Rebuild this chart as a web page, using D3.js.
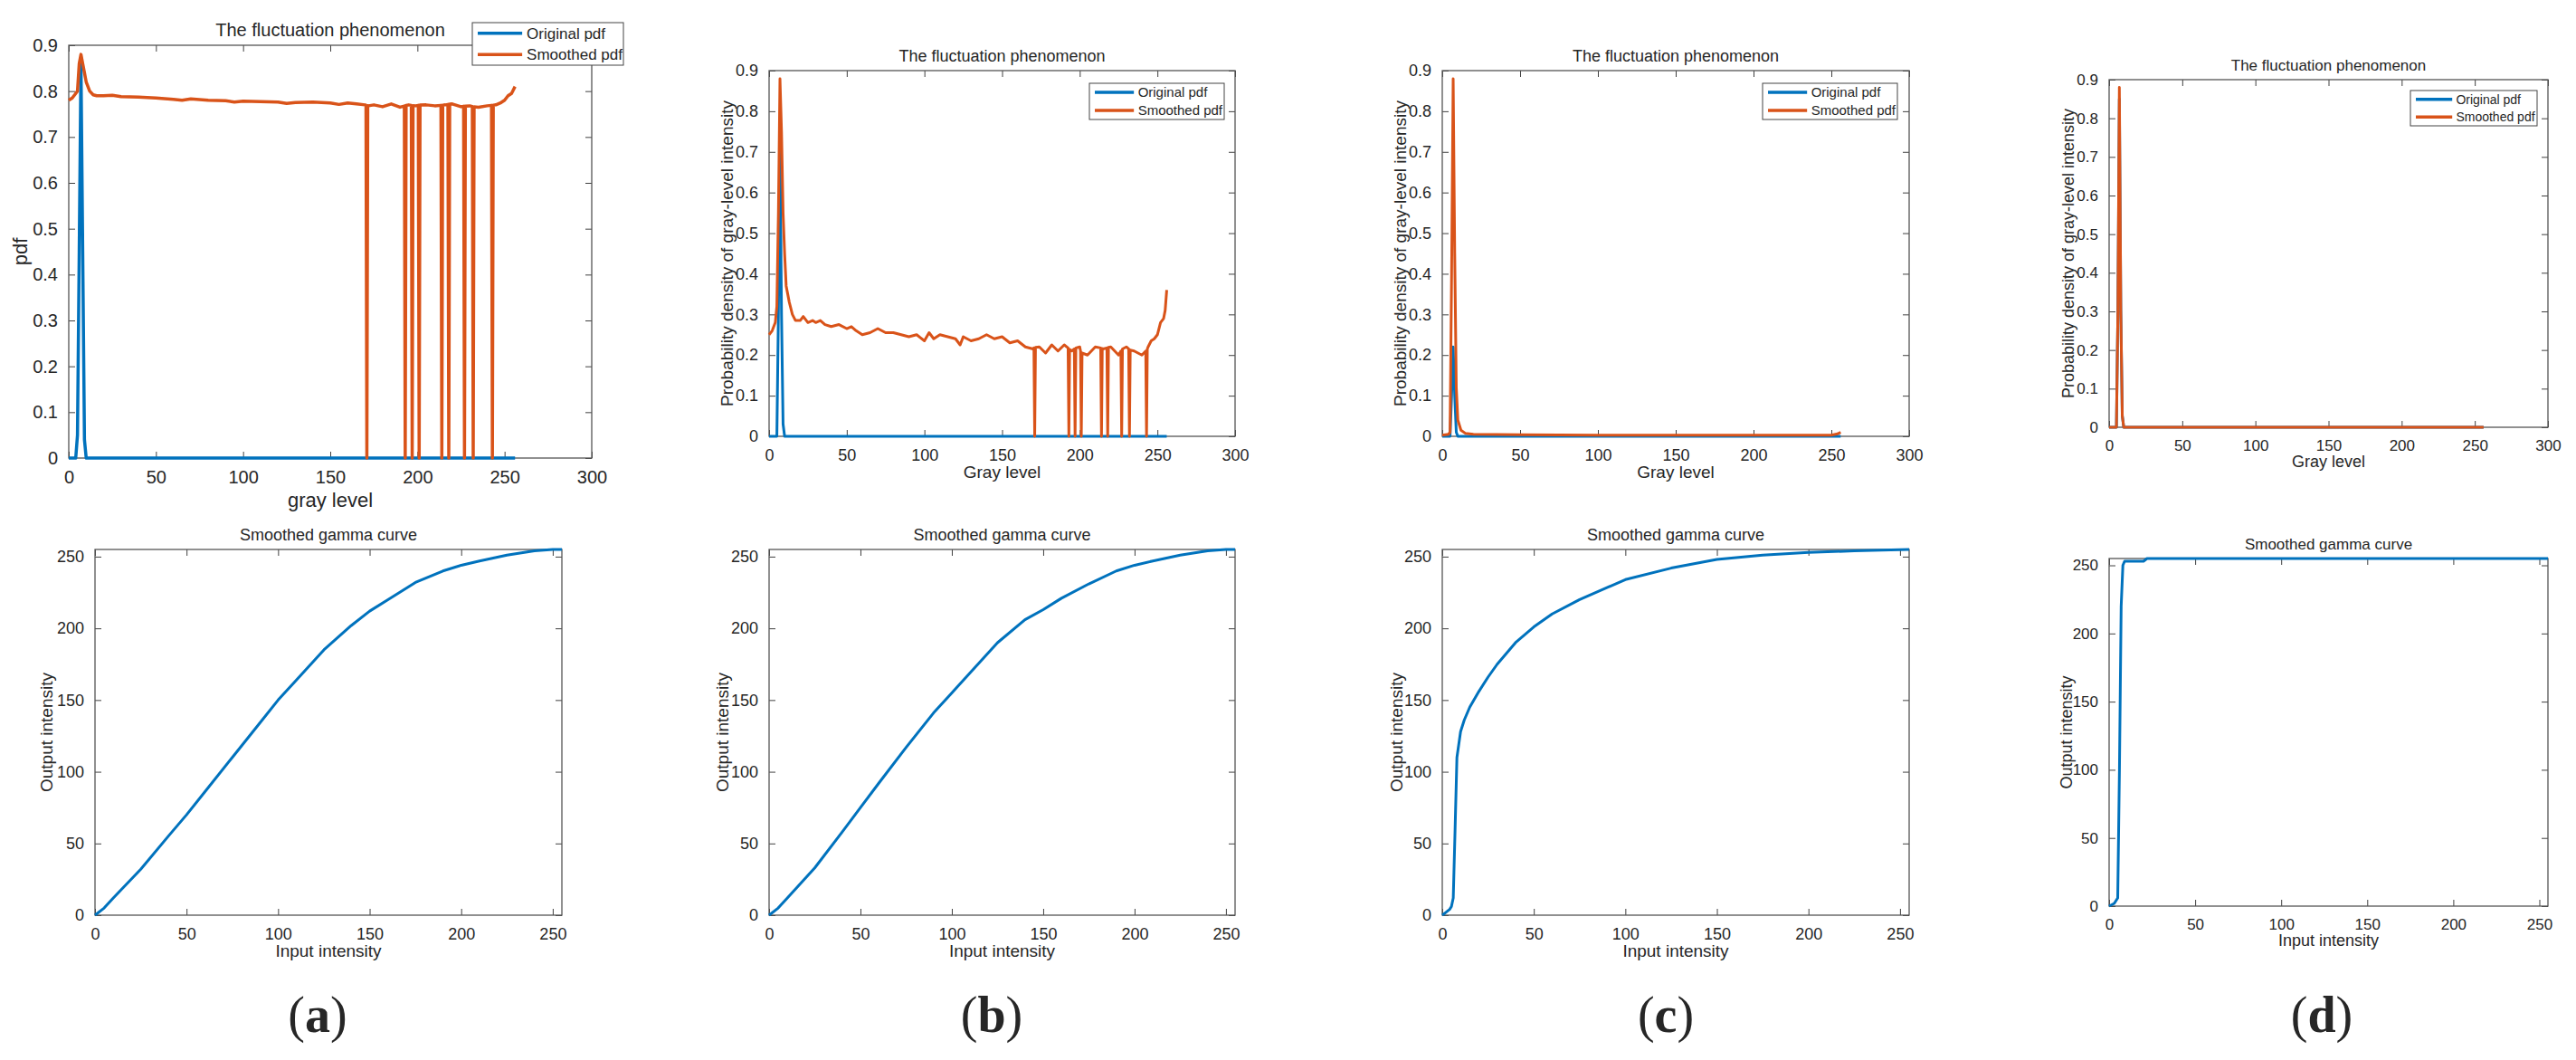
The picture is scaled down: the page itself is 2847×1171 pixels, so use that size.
<!DOCTYPE html>
<html>
<head>
<meta charset="utf-8">
<script src="https://cdn.jsdelivr.net/npm/d3@7"></script>
<style>
  body { margin: 0; background: #fff; }
  text { font-family: "Liberation Sans", Arial, sans-serif; fill: #262626; }
</style>
</head>
<body>
<svg id="fig" width="2847" height="1171"></svg>
<script>
// ---- data ----
const pdfTicksX = [0, 50, 100, 150, 200, 250, 300];
const pdfTicksY = [0, 0.1, 0.2, 0.3, 0.4, 0.5, 0.6, 0.7, 0.8, 0.9];
const gammaTicks = [0, 50, 100, 150, 200, 250];

// gray levels where the smoothed pdf collapses to zero
const dropLevels = [171, 193, 197, 201, 214, 218, 227, 232, 243];

// (a) pdf
const aOrigX = [0, 4, 5, 6, 7, 8, 9, 10, 256];
const aOrigY = [0, 0, 0.05, 0.45, 0.86, 0.45, 0.04, 0, 0];
const aSmoothX = [0, 2, 4, 5, 6, 7, 8, 9, 10, 11, 12, 14, 16, 20, 25, 30, 40, 50, 60, 65, 70, 80, 90, 95, 100, 110, 120, 125, 130, 140, 150, 155, 160, 165, 170, 172, 175, 180, 185, 190, 195, 199, 205, 210, 216, 220, 225, 230, 235, 240, 245, 248, 250, 252, 254, 256];
const aSmoothY = [0.78, 0.785, 0.795, 0.80, 0.86, 0.88, 0.86, 0.84, 0.82, 0.81, 0.80, 0.792, 0.79, 0.79, 0.791, 0.788, 0.787, 0.785, 0.782, 0.78, 0.783, 0.78, 0.779, 0.776, 0.778, 0.777, 0.776, 0.773, 0.775, 0.776, 0.774, 0.771, 0.774, 0.772, 0.77, 0.768, 0.77, 0.766, 0.772, 0.765, 0.77, 0.768, 0.77, 0.768, 0.77, 0.772, 0.766, 0.768, 0.765, 0.768, 0.77, 0.775, 0.78, 0.79, 0.795, 0.81];

// (b) pdf
const bOrigX = [0, 5, 6, 7, 8, 9, 10, 256];
const bOrigY = [0, 0, 0.3, 0.72, 0.3, 0.03, 0, 0];
const bSmoothX = [0, 2, 4, 5, 6, 7, 8, 9, 10, 11, 12, 13, 15, 17, 20, 22, 25, 28, 30, 33, 36, 40, 45, 50, 53, 56, 60, 65, 70, 75, 80, 85, 90, 95, 100, 103, 106, 110, 115, 120, 123, 125, 130, 135, 140, 145, 150, 155, 160, 165, 170, 174, 178, 182, 186, 190, 195, 200, 205, 210, 215, 220, 225, 230, 235, 240, 244, 246, 248, 250, 252, 254, 255, 256];
const bSmoothY = [0.25, 0.26, 0.28, 0.32, 0.55, 0.88, 0.75, 0.55, 0.45, 0.37, 0.35, 0.33, 0.30, 0.285, 0.285, 0.295, 0.28, 0.285, 0.28, 0.285, 0.275, 0.27, 0.275, 0.265, 0.27, 0.26, 0.25, 0.255, 0.265, 0.255, 0.255, 0.25, 0.245, 0.25, 0.235, 0.255, 0.24, 0.25, 0.245, 0.24, 0.225, 0.245, 0.235, 0.24, 0.25, 0.24, 0.245, 0.23, 0.235, 0.22, 0.215, 0.22, 0.205, 0.225, 0.21, 0.225, 0.21, 0.22, 0.2, 0.22, 0.215, 0.22, 0.2, 0.22, 0.21, 0.2, 0.22, 0.235, 0.24, 0.25, 0.28, 0.29, 0.31, 0.36];

// (c) pdf
const cOrigX = [0, 5, 6, 7, 8, 9, 10, 256];
const cOrigY = [0, 0, 0.1, 0.22, 0.1, 0.01, 0, 0];
const cSmoothX = [0, 2, 4, 5, 6, 7, 8, 9, 10, 12, 15, 20, 50, 100, 150, 200, 250, 254, 256];
const cSmoothY = [0.003, 0.004, 0.005, 0.01, 0.4, 0.88, 0.45, 0.12, 0.04, 0.015, 0.007, 0.005, 0.004, 0.003, 0.003, 0.003, 0.003, 0.006, 0.01];

// (d) pdf
const dOrigX = [0, 5, 6, 7, 8, 9, 10, 256];
const dOrigY = [0, 0, 0.3, 0.85, 0.3, 0.03, 0, 0];
const dSmoothX = [0, 5, 6, 7, 8, 9, 10, 256];
const dSmoothY = [0, 0, 0.3, 0.88, 0.3, 0.03, 0, 0];

// gamma curves
const gammaX = [0, 5, 10, 25, 40, 50, 60, 75, 90, 100, 110, 125, 140, 150, 160, 175, 190, 200, 210, 225, 240, 250, 255];
const aGammaY = [0, 5, 12, 32, 55, 70, 86, 110, 134, 150, 164, 185, 202, 212, 220, 232, 240, 244, 247, 251, 254, 255, 255];
const bGammaY = [0, 5, 12, 33, 58, 75, 92, 117, 141, 155, 169, 190, 206, 213, 221, 231, 240, 244, 247, 251, 254, 255, 255];
const cGammaX = [0, 2, 4, 5, 6, 7, 8, 10, 12, 15, 20, 25, 30, 40, 50, 60, 75, 100, 125, 150, 175, 200, 225, 255];
const cGammaY = [0, 2, 4, 6, 12, 60, 110, 128, 136, 145, 156, 166, 175, 190, 201, 210, 220, 234, 242, 248, 251, 253, 254, 255];
const dGammaX = [0, 3, 5, 6, 7, 8, 9, 20, 22, 255];
const dGammaY = [0, 2, 6, 100, 220, 250, 253, 253, 255, 255];

const labels = ["(a)", "(b)", "(c)", "(d)"];
const labelX = [351, 1096, 1841, 2566];

const BLUE = "#0072BD", ORANGE = "#D95319";
const svg = d3.select("#fig");

function zip(xs, ys) { return xs.map((x, i) => [x, ys[i]]); }
function withDrops(pts) {
  // insert single-sample drops to zero at the listed gray levels
  const out = pts.slice();
  dropLevels.forEach(g => { out.push([g - 0.5, null], [g, 0], [g + 0.5, null]); });
  out.sort((p, q) => p[0] - q[0]);
  for (let i = 0; i < out.length; i++) {
    if (out[i][1] === null) {
      let j = i - 1; while (out[j][1] === null || out[j][1] === 0) j--;
      let k = i + 1; while (out[k][1] === null || out[k][1] === 0) k++;
      out[i][1] = (out[j][1] + out[k][1]) / 2;
    }
  }
  return out;
}

function panel(p) {
  const g = svg.append("g");
  const x = d3.scaleLinear().domain(p.xDomain).range([p.left, p.right]);
  const y = d3.scaleLinear().domain(p.yDomain).range([p.bottom, p.top]);
  const fmt = p.yFmt || (d => d);

  const bx = g.append("g").attr("transform", `translate(0,${p.bottom})`)
    .call(d3.axisBottom(x).tickValues(p.xTicks).tickSize(-7).tickPadding(14).tickSizeOuter(0));
  const tx = g.append("g").attr("transform", `translate(0,${p.top})`)
    .call(d3.axisTop(x).tickValues(p.xTicks).tickSize(-7).tickFormat("").tickSizeOuter(0));
  const ly = g.append("g").attr("transform", `translate(${p.left},0)`)
    .call(d3.axisLeft(y).tickValues(p.yTicks).tickSize(-7).tickPadding(12).tickFormat(fmt).tickSizeOuter(0));
  const ry = g.append("g").attr("transform", `translate(${p.right},0)`)
    .call(d3.axisRight(y).tickValues(p.yTicks).tickSize(-7).tickFormat("").tickSizeOuter(0));
  [bx, tx, ly, ry].forEach(a => {
    a.select(".domain").remove();
    a.selectAll("line").attr("stroke", "#404040");
    a.selectAll("text").style("font-size", p.tick + "px").attr("fill", "#333");
  });

  g.append("rect").attr("x", p.left).attr("y", p.top)
    .attr("width", p.right - p.left).attr("height", p.bottom - p.top)
    .attr("fill", "none").attr("stroke", "#555").attr("stroke-width", 1.3);

  const line = d3.line().x(d => x(d[0])).y(d => y(d[1]));
  p.series.forEach(s => {
    g.append("path").datum(s.pts).attr("d", line).attr("fill", "none")
      .attr("stroke", s.color).attr("stroke-width", p.lw).attr("stroke-linejoin", "round");
  });

  g.append("text").attr("x", (p.left + p.right) / 2).attr("y", p.top - 10)
    .attr("text-anchor", "middle").style("font-size", p.title + "px").attr("fill", "#111").text(p.titleText);
  g.append("text").attr("x", (p.left + p.right) / 2).attr("y", p.bottom + p.xLabOff)
    .attr("text-anchor", "middle").style("font-size", p.lab + "px").attr("fill", "#333").text(p.xLabel);
  g.append("text").attr("transform", `translate(${p.yLabX},${(p.top + p.bottom) / 2}) rotate(-90)`)
    .attr("text-anchor", "middle").style("font-size", p.lab + "px").attr("fill", "#333").text(p.yLabel);

  if (p.legend) {
    const L = p.legend;
    const lg = g.append("g");
    lg.append("rect").attr("x", L.x0).attr("y", L.y0).attr("width", L.x1 - L.x0).attr("height", L.y1 - L.y0)
      .attr("fill", "#fff").attr("stroke", "#444").attr("stroke-width", 1);
    const rowH = (L.y1 - L.y0) / 2;
    [["Original pdf", BLUE], ["Smoothed pdf", ORANGE]].forEach((e, i) => {
      const cy = L.y0 + rowH * (i + 0.5);
      lg.append("line").attr("x1", L.x0 + 6).attr("x2", L.x0 + (L.x1 - L.x0) * 0.33)
        .attr("y1", cy).attr("y2", cy).attr("stroke", e[1]).attr("stroke-width", 3.5);
      lg.append("text").attr("x", L.x0 + (L.x1 - L.x0) * 0.36).attr("y", cy).attr("dy", "0.35em")
        .style("font-size", L.fs + "px").attr("fill", "#222").text(e[0]);
    });
  }
}

const pdfFmt = d => d === 0 ? "0" : d3.format(".1f")(d);
const pdfBase = { xDomain: [0, 300], yDomain: [0, 0.9], xTicks: pdfTicksX, yTicks: pdfTicksY, yFmt: pdfFmt, titleText: "The fluctuation phenomenon" };
const yLabPdf = "Probability density of gray-level intensity";

panel(Object.assign({}, pdfBase, {
  left: 76, right: 654, top: 50, bottom: 506, tick: 20, lab: 22, title: 20, lw: 3.5, xLabOff: 54, yLabX: 30,
  xLabel: "gray level", yLabel: "pdf",
  legend: { x0: 522, x1: 689, y0: 25, y1: 72, fs: 17 },
  series: [{ pts: zip(aOrigX, aOrigY), color: BLUE }, { pts: withDrops(zip(aSmoothX, aSmoothY)), color: ORANGE }]
}));
panel(Object.assign({}, pdfBase, {
  left: 850, right: 1365, top: 78, bottom: 482, tick: 18, lab: 19, title: 18, lw: 3, xLabOff: 46, yLabX: 810,
  xLabel: "Gray level", yLabel: yLabPdf,
  legend: { x0: 1204, x1: 1353, y0: 92, y1: 132, fs: 15 },
  series: [{ pts: zip(bOrigX, bOrigY), color: BLUE }, { pts: withDrops(zip(bSmoothX, bSmoothY)), color: ORANGE }]
}));
panel(Object.assign({}, pdfBase, {
  left: 1594, right: 2110, top: 78, bottom: 482, tick: 18, lab: 19, title: 18, lw: 3, xLabOff: 46, yLabX: 1554,
  xLabel: "Gray level", yLabel: yLabPdf,
  legend: { x0: 1948, x1: 2097, y0: 92, y1: 132, fs: 15 },
  series: [{ pts: zip(cOrigX, cOrigY), color: BLUE }, { pts: zip(cSmoothX, cSmoothY), color: ORANGE }]
}));
panel(Object.assign({}, pdfBase, {
  left: 2331, right: 2816, top: 88, bottom: 472, tick: 17, lab: 18, title: 17, lw: 3, xLabOff: 44, yLabX: 2292,
  xLabel: "Gray level", yLabel: yLabPdf,
  legend: { x0: 2664, x1: 2804, y0: 100, y1: 139, fs: 14 },
  series: [{ pts: zip(dOrigX, dOrigY), color: BLUE }, { pts: zip(dSmoothX, dSmoothY), color: ORANGE }]
}));

const gBase = { xDomain: [0, 255], yDomain: [0, 255], xTicks: gammaTicks, yTicks: gammaTicks, titleText: "Smoothed gamma curve", xLabel: "Input intensity", yLabel: "Output intensity", tick: 18, lab: 19, title: 18, lw: 3, xLabOff: 46 };
panel(Object.assign({}, gBase, { left: 105, right: 621, top: 607, bottom: 1011, yLabX: 58, series: [{ pts: zip(gammaX, aGammaY), color: BLUE }] }));
panel(Object.assign({}, gBase, { left: 850, right: 1365, top: 607, bottom: 1011, yLabX: 805, series: [{ pts: zip(gammaX, bGammaY), color: BLUE }] }));
panel(Object.assign({}, gBase, { left: 1594, right: 2110, top: 607, bottom: 1011, yLabX: 1550, series: [{ pts: zip(cGammaX, cGammaY), color: BLUE }] }));
panel(Object.assign({}, gBase, { left: 2331, right: 2816, top: 617, bottom: 1001, tick: 17, lab: 18, title: 17, xLabOff: 44, yLabX: 2290, series: [{ pts: zip(dGammaX, dGammaY), color: BLUE }] }));

labels.forEach((t, i) => {
  svg.append("text").attr("x", labelX[i]).attr("y", 1140).attr("text-anchor", "middle")
    .style("font-family", "'Liberation Serif', 'DejaVu Serif', serif").style("font-size", "56px")
    .attr("fill", "#000").html(`(<tspan font-weight="bold">${t[1]}</tspan>)`);
});
</script>
</body>
</html>
